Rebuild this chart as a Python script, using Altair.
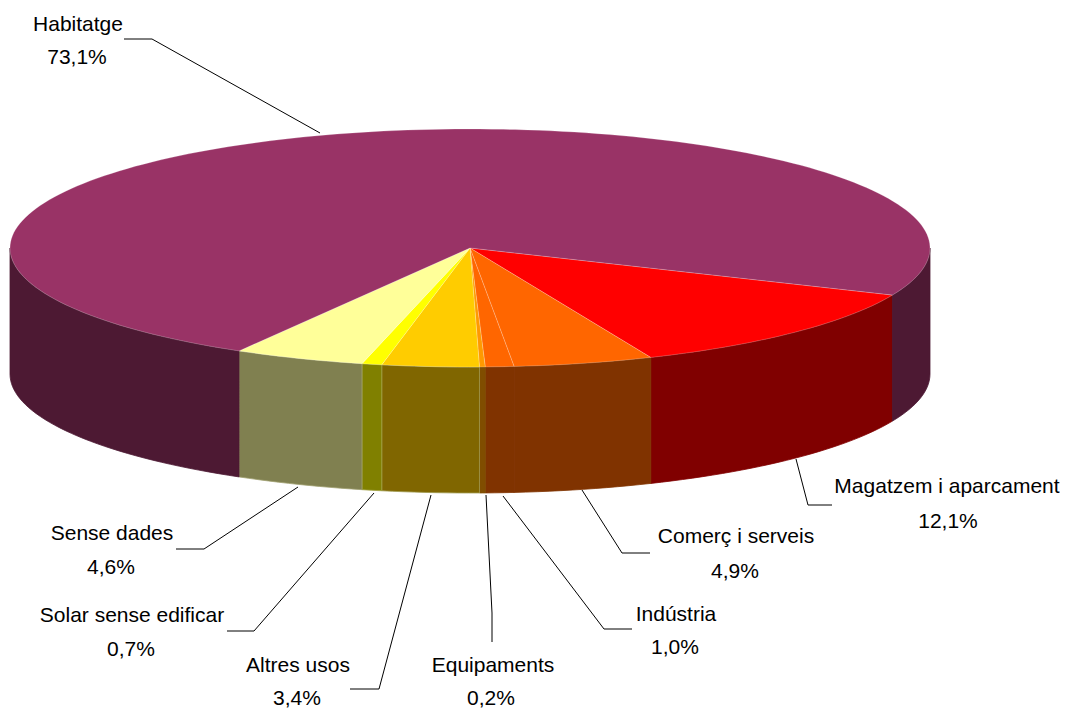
import math
import altair as alt
import pandas as pd

# Chart values, in drawing order round the pie
categories = ["Magatzem i aparcament", "Comerç i serveis", "Indústria", "Equipaments",
              "Altres usos", "Solar sense edificar", "Sense dades", "Habitatge"]
shares = [12.1, 4.9, 1.0, 0.2, 3.4, 0.7, 4.6, 73.1]
share_labels = ["12,1%", "4,9%", "1,0%", "0,2%", "3,4%", "0,7%", "4,6%", "73,1%"]

# Styles
top_colors = ["#FF0000", "#FF6600", "#FF6600", "#FF9900", "#FFCC00", "#FFFF00", "#FFFF99", "#993366"]
wall_colors = ["#800000", "#803300", "#803300", "#804D00", "#806600", "#808000", "#808050", "#4D1933"]
wall_edges = ["#800000", "#803300", "#803300", "#804D00", "#A09A50", "#A0A040", "#A0A070", "#4D1933"]

# Layout of the tilted pie, in page pixels
CX, CY, RX, RY, DEPTH, START = 470, 248, 460, 119, 126, 23.3
FONT = "Liberation Sans"
FONT_SIZE = 21

# Label layout: x centre, first baseline, second baseline, second x centre
label_x = [947, 736, 676, 493, 298, 132, 112, 78]
label_y1 = [493, 543, 621, 672, 672, 622, 540, 31]
label_y2 = [528, 578, 654, 705, 705, 656, 574, 64]
label_x2 = [948, 735, 675, 491, 297, 131, 111, 77]

# Leader lines: xs and ys from the label end to the pie
leader_x = [[832, 808, 796], [650, 622, 582], [632, 604, 503], [492, 492, 486],
            [350, 379, 431], [227, 254, 374], [176, 204, 298], [124, 152, 320]]
leader_y = [[505, 505, 459], [553, 553, 490], [629, 629, 496], [642, 613, 495],
            [689, 689, 495], [631, 631, 493], [549, 549, 487], [39, 39, 133]]

X = alt.Scale(domain=[8, 1060], nice=False, zero=False)
Y = alt.Scale(domain=[710, 8], nice=False, zero=False)


def rim(a, b, dy=0):
    n = max(2, int(abs(b - a) / 1.5) + 1)
    pts = []
    for k in range(n + 1):
        t = math.radians(a + (b - a) * k / n)
        pts.append((CX + RX * math.cos(t), CY + RY * math.sin(t) + dy))
    return pts


def polygon(pts, fill, stroke, opacity=0.45, sw=0.6):
    df = pd.DataFrame({"x": [p[0] for p in pts] + [pts[0][0]],
                       "y": [p[1] for p in pts] + [pts[0][1]],
                       "i": list(range(len(pts) + 1))})
    return alt.Chart(df).mark_line(fill=fill, stroke=stroke, strokeWidth=sw,
                                   strokeOpacity=opacity).encode(
        x=alt.X("x:Q", scale=X, axis=None),
        y=alt.Y("y:Q", scale=Y, axis=None),
        order="i:Q")


layers = []
edges = [START]
for s in shares:
    edges.append(edges[-1] + s * 3.6)

# Walls (only the front half, t in 0..180 and 360..540, can be seen)
for i, _ in enumerate(shares):
    a, b = edges[i], edges[i + 1]
    for lo, hi in ((0, 180), (360, 540)):
        aa, bb = max(a, lo), min(b, hi)
        if bb > aa:
            pts = rim(aa, bb) + rim(aa, bb, DEPTH)[::-1]
            layers.append(polygon(pts, wall_colors[i], wall_edges[i], 1, 0.8))

# Top face
for i, _ in enumerate(shares):
    pts = [(CX, CY)] + rim(edges[i], edges[i + 1])
    layers.append(polygon(pts, top_colors[i], "#FFFFFF", 0.35, 0.6))

# Leaders
for i, _ in enumerate(categories):
    df = pd.DataFrame({"x": leader_x[i], "y": leader_y[i], "i": [0, 1, 2]})
    layers.append(alt.Chart(df).mark_line(color="#000000", strokeWidth=1).encode(
        x=alt.X("x:Q", scale=X, axis=None),
        y=alt.Y("y:Q", scale=Y, axis=None),
        order="i:Q"))

# Labels
text_df = pd.DataFrame({
    "t": categories + share_labels,
    "x": label_x + label_x2,
    "y": label_y1 + label_y2,
})
layers.append(alt.Chart(text_df).mark_text(
    font=FONT, fontSize=FONT_SIZE, color="#000000", align="center", baseline="alphabetic"
).encode(
    x=alt.X("x:Q", scale=X, axis=None),
    y=alt.Y("y:Q", scale=Y, axis=None),
    text="t:N"))

chart = alt.layer(*layers).properties(
    width=1052, height=702, padding=0, background="#FFFFFF",
    autosize=alt.AutoSizeParams(type="none"),
).configure_view(stroke=None)

chart.save("out.html", embed_options={"renderer": "svg", "actions": False})
